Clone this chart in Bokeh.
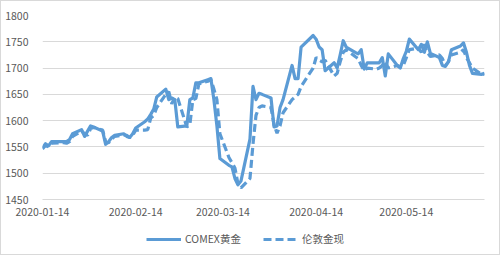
import pandas as pd
from bokeh.plotting import figure
from bokeh.layouts import column
from bokeh.models import Range1d, FixedTicker, DatetimeTickFormatter, Legend, LegendItem, ColumnDataSource
from bokeh.embed import file_html
from bokeh.resources import INLINE

dates = ["2020-01-14","2020-01-15","2020-01-16","2020-01-17","2020-01-20","2020-01-21","2020-01-22","2020-01-23","2020-01-24",
         "2020-01-27","2020-01-28","2020-01-29","2020-01-30","2020-01-31",
         "2020-02-03","2020-02-04","2020-02-05","2020-02-06","2020-02-07",
         "2020-02-10","2020-02-11","2020-02-12","2020-02-13","2020-02-14",
         "2020-02-17","2020-02-18","2020-02-19","2020-02-20","2020-02-21",
         "2020-02-24","2020-02-25","2020-02-26","2020-02-27","2020-02-28",
         "2020-03-02","2020-03-03","2020-03-04","2020-03-05","2020-03-06",
         "2020-03-09","2020-03-10","2020-03-11","2020-03-12","2020-03-13",
         "2020-03-16","2020-03-17","2020-03-18","2020-03-19","2020-03-20",
         "2020-03-23","2020-03-24","2020-03-25","2020-03-26","2020-03-27",
         "2020-03-30","2020-03-31","2020-04-01","2020-04-02","2020-04-03",
         "2020-04-06","2020-04-07","2020-04-08","2020-04-09",
         "2020-04-13","2020-04-14","2020-04-15","2020-04-16","2020-04-17",
         "2020-04-20","2020-04-21","2020-04-22","2020-04-23","2020-04-24",
         "2020-04-27","2020-04-28","2020-04-29","2020-04-30","2020-05-01",
         "2020-05-04","2020-05-05","2020-05-06","2020-05-07","2020-05-08",
         "2020-05-11","2020-05-12","2020-05-13","2020-05-14","2020-05-15",
         "2020-05-18","2020-05-19","2020-05-20","2020-05-21","2020-05-22",
         "2020-05-25","2020-05-26","2020-05-27","2020-05-28","2020-05-29",
         "2020-06-01","2020-06-02","2020-06-03","2020-06-04","2020-06-05",
         "2020-06-08","2020-06-09"]

comex = [1548,1556,1552,1560,1560,1560,1560,1564,1575,
         1583,1570,1580,1590,1588,
         1580,1555,1560,1568,1572,
         1575,1570,1568,1575,1586,
         1598,1603,1612,1622,1645,
         1660,1640,1643,1640,1588,
         1590,1640,1643,1672,1672,
         1678,1680,1640,1590,1528,
         1515,1512,1490,1478,1485,
         1565,1665,1640,1652,1650,
         1643,1588,1590,1625,1640,
         1705,1680,1680,1740,
         1762,1755,1740,1735,1695,
         1710,1700,1725,1752,1740,
         1730,1727,1735,1698,1710,
         1710,1710,1720,1685,1727,
         1705,1700,1718,1732,1755,
         1735,1745,1730,1750,1728,
         1720,1705,1703,1712,1735,
         1742,1748,1730,1705,1690,
         1688,1690]

london = [1546,1553,1550,1557,1558,1558,1557,1560,1570,
          1580,1575,1572,1585,1587,
          1582,1560,1558,1565,1570,
          1573,1572,1568,1572,1582,
          1582,1583,1605,1610,1625,
          1650,1655,1632,1645,1642,
          1588,1592,1640,1642,1670,
          1675,1678,1660,1640,1575,
          1530,1520,1510,1480,1472,
          1490,1555,1610,1625,1628,
          1625,1592,1576,1590,1615,
          1640,1645,1650,1665,
          1700,1720,1715,1712,1715,
          1685,1690,1712,1730,1735,
          1722,1718,1705,1695,1700,
          1698,1700,1705,1712,1700,
          1705,1702,1705,1720,1735,
          1738,1730,1745,1730,1722,
          1725,1718,1705,1712,1725,
          1730,1735,1720,1710,1700,
          1688,1688]

tick_labels = ["2020-01-14", "2020-02-14", "2020-03-14", "2020-04-14", "2020-05-14"]
y_ticks = [1450, 1500, 1550, 1600, 1650, 1700, 1750, 1800]
series_names = ["COMEX黄金", "伦敦金现"]

color = "#5B9BD5"
font = "Noto Sans CJK SC"
gray = "#595959"
dash = "8 4"

x = pd.to_datetime(dates)
src = ColumnDataSource(dict(x=x, comex=comex, london=london))

p = figure(frame_width=442, frame_height=184, x_axis_type="datetime", output_backend="svg", toolbar_location=None,
           x_range=Range1d(x[0], x[-1]), y_range=Range1d(y_ticks[0], y_ticks[-1]),
           min_border_left=41, min_border_right=15, min_border_top=14, min_border_bottom=23)
p.outline_line_color = None
p.background_fill_color = "white"
p.border_fill_color = "white"

p.line("x", "comex", source=src, line_color=color, line_width=3.2, line_join="round")
p.line("x", "london", source=src, line_color=color, line_width=3.2, line_dash=dash)

tick_ms = [pd.Timestamp(t).value // 10**6 for t in tick_labels]
p.xaxis.ticker = FixedTicker(ticks=tick_ms)
fmt = "%Y-%m-%d"
p.xaxis.formatter = DatetimeTickFormatter(milliseconds=fmt, seconds=fmt, minsec=fmt, minutes=fmt, hourmin=fmt,
                                          hours=fmt, days=fmt, months=fmt, years=fmt)
p.yaxis.ticker = FixedTicker(ticks=y_ticks)

for ax in (p.xaxis, p.yaxis):
    ax.major_tick_line_color = None
    ax.minor_tick_line_color = None
    ax.major_label_text_font = font
    ax.major_label_text_font_size = "10.5px"
    ax.major_label_text_color = gray
p.yaxis.axis_line_color = None
p.xaxis.axis_line_color = "#D9D9D9"
p.yaxis.major_label_standoff = 8
p.xaxis.major_label_standoff = 2

p.xgrid.grid_line_color = None
p.ygrid.grid_line_color = "#D9D9D9"
p.ygrid.grid_line_width = 1

# legend strip below the chart (same series, drawn out of this strip's view)
leg = figure(width=498, height=32, output_backend="svg", toolbar_location=None,
             x_range=Range1d(0, 1), y_range=Range1d(0, 1),
             min_border=0)
leg.axis.visible = False
leg.grid.visible = False
leg.outline_line_color = None
l1 = leg.line("x", "comex", source=src, line_color=color, line_width=3.2)
l2 = leg.line("x", "london", source=src, line_color=color, line_width=3.2, line_dash=dash)
legend = Legend(items=[LegendItem(label=series_names[0], renderers=[l1]),
                       LegendItem(label=series_names[1], renderers=[l2])],
                orientation="horizontal", location=(104, 8),
                glyph_width=35, glyph_height=12, label_standoff=4, spacing=22,
                label_text_font=font, label_text_font_size="10.5px", label_text_color=gray,
                border_line_color=None, background_fill_alpha=0, padding=0, margin=0)
leg.add_layout(legend, "center")

layout = column(p, leg, spacing=0, styles={"border": "1px solid #D9D9D9", "background": "white"})

open("out.html", "w").write(file_html(layout, INLINE))
